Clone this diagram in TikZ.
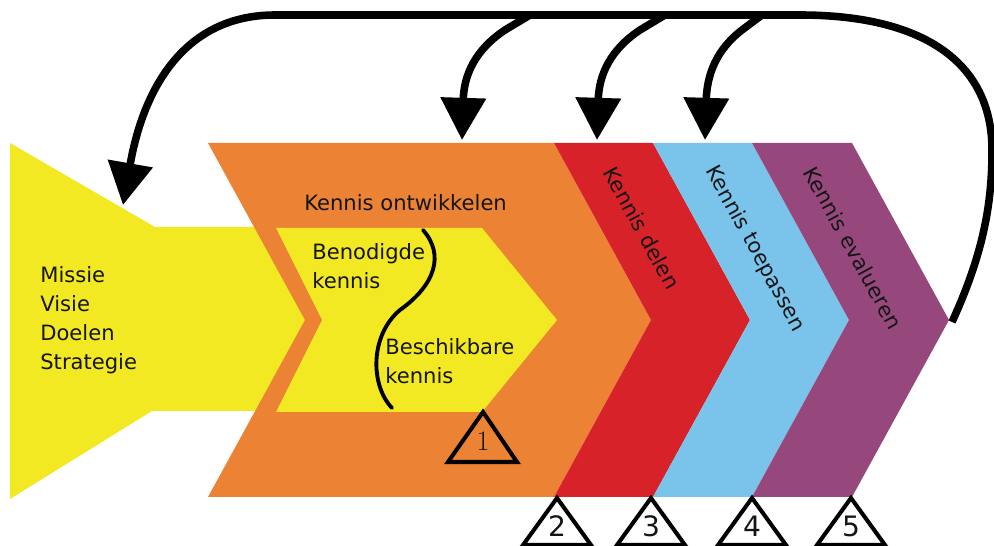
\documentclass[tikz,border=0pt]{standalone}
\usepackage{fontspec}
\setsansfont{DejaVu Sans}
\usetikzlibrary{arrows.meta}
\definecolor{KmYellow}{HTML}{F2E923}
\definecolor{KmOrange}{HTML}{EC8233}
\definecolor{KmRed}{HTML}{D8222A}
\definecolor{KmBlue}{HTML}{7AC3EA}
\definecolor{KmPurple}{HTML}{96487D}
\definecolor{KmInk}{HTML}{151515}
\tikzset{
  figlabel/.style={font=\sffamily\fontsize{12}{16.5}\selectfont, text=KmInk, inner sep=0pt, align=left},
  stagelabel/.style={figlabel, rotate=-61.3},
  fignum/.style={font=\sffamily\fontsize{16}{16}\selectfont, text=KmInk, inner sep=0pt},
  figtri/.style={draw=black, line width=2.3pt, line join=miter},
  figloop/.style={draw=black, line width=4.3pt},
  figfeed/.style={figloop, -{Triangle[width=25pt,length=24pt]}},
  figsplit/.style={draw=black, line width=2.2pt, line cap=round}
}

\begin{document}
\begin{tikzpicture}[x=0.02cm, y=-0.02cm]
\useasboundingbox (0,0) rectangle (994,546);
% mission block
\fill[KmYellow] (10,143) -- (155,227) -- (330,227) -- (330,411) -- (152,411) -- (10,499) -- cycle;
% stage chevrons
\fill[KmOrange] (208,143) -- (554,143) -- (651,320) -- (554,497) -- (208,497) -- (305,320) -- cycle;
\fill[KmYellow] (276,228) -- (482,228) -- (557,320) -- (482,412) -- (276,412) -- (322,320) -- cycle;
\fill[KmRed] (554,143) -- (653,143) -- (750,320) -- (653,497) -- (554,497) -- (651,320) -- cycle;
\fill[KmBlue] (653,143) -- (752,143) -- (849,320) -- (752,497) -- (653,497) -- (750,320) -- cycle;
\fill[KmPurple] (752,143) -- (852,143) -- (949,320) -- (852,497) -- (752,497) -- (849,320) -- cycle;
% labels
\node[figlabel, anchor=west] (missie) at (40,320) {Missie\\Visie\\Doelen\\Strategie};
\node[figlabel, anchor=base west] (ontw) at (304,211) {Kennis ontwikkelen};
\node[figlabel, anchor=west] (benodigd) at (312,266) {Benodigde\\kennis};
\node[figlabel, anchor=west] (beschikbaar) at (385,361) {Beschikbare\\kennis};
\node[stagelabel] (delen) at (642,228) {Kennis delen};
\node[stagelabel] (toepassen) at (755,249) {Kennis toepassen};
\node[stagelabel] (evalueren) at (853,248) {Kennis evalueren};
% split between needed and available knowledge
\draw[figsplit] (423,230) .. controls (445,255) and (435,285) .. (400,310) .. controls (370,335) and (370,385) .. (392,408);
% numbered triangles
\draw[figtri] (483,412) -- (517,462) -- (448,462) -- cycle;
\node[font=\fontsize{16}{16}\selectfont, text=KmInk, inner sep=0pt] (tri1) at (483,441) {1};
\foreach \x/\n in {557/2, 651/3, 752/4, 851/5} {
  \draw[figtri] (\x,498) -- (\x+34,545) -- (\x-34,545) -- cycle;
  \node[fignum] (tri\n) at (\x,526) {\n};
}
% feedback loop
\coordinate (loopend) at (952,322);
\coordinate (aimmissie) at (123,205);
\coordinate (aimorange) at (462,140);
\coordinate (aimred) at (597,140);
\coordinate (aimblue) at (705,140);
\draw[figfeed] (loopend) .. controls (985,250) and (992,200) .. (992,150) .. controls (992,60) and (920,15) .. (800,15) -- (275,15) .. controls (190,15) and (145,80) .. (aimmissie);
\draw[figfeed] (530,15) -- (505,30) .. controls (475,50) and (464,75) .. (aimorange);
\draw[figfeed] (665,15) -- (640,30) .. controls (610,50) and (599,75) .. (aimred);
\draw[figfeed] (762,15) -- (742,30) .. controls (716,50) and (707,75) .. (aimblue);
\end{tikzpicture}
\end{document}
